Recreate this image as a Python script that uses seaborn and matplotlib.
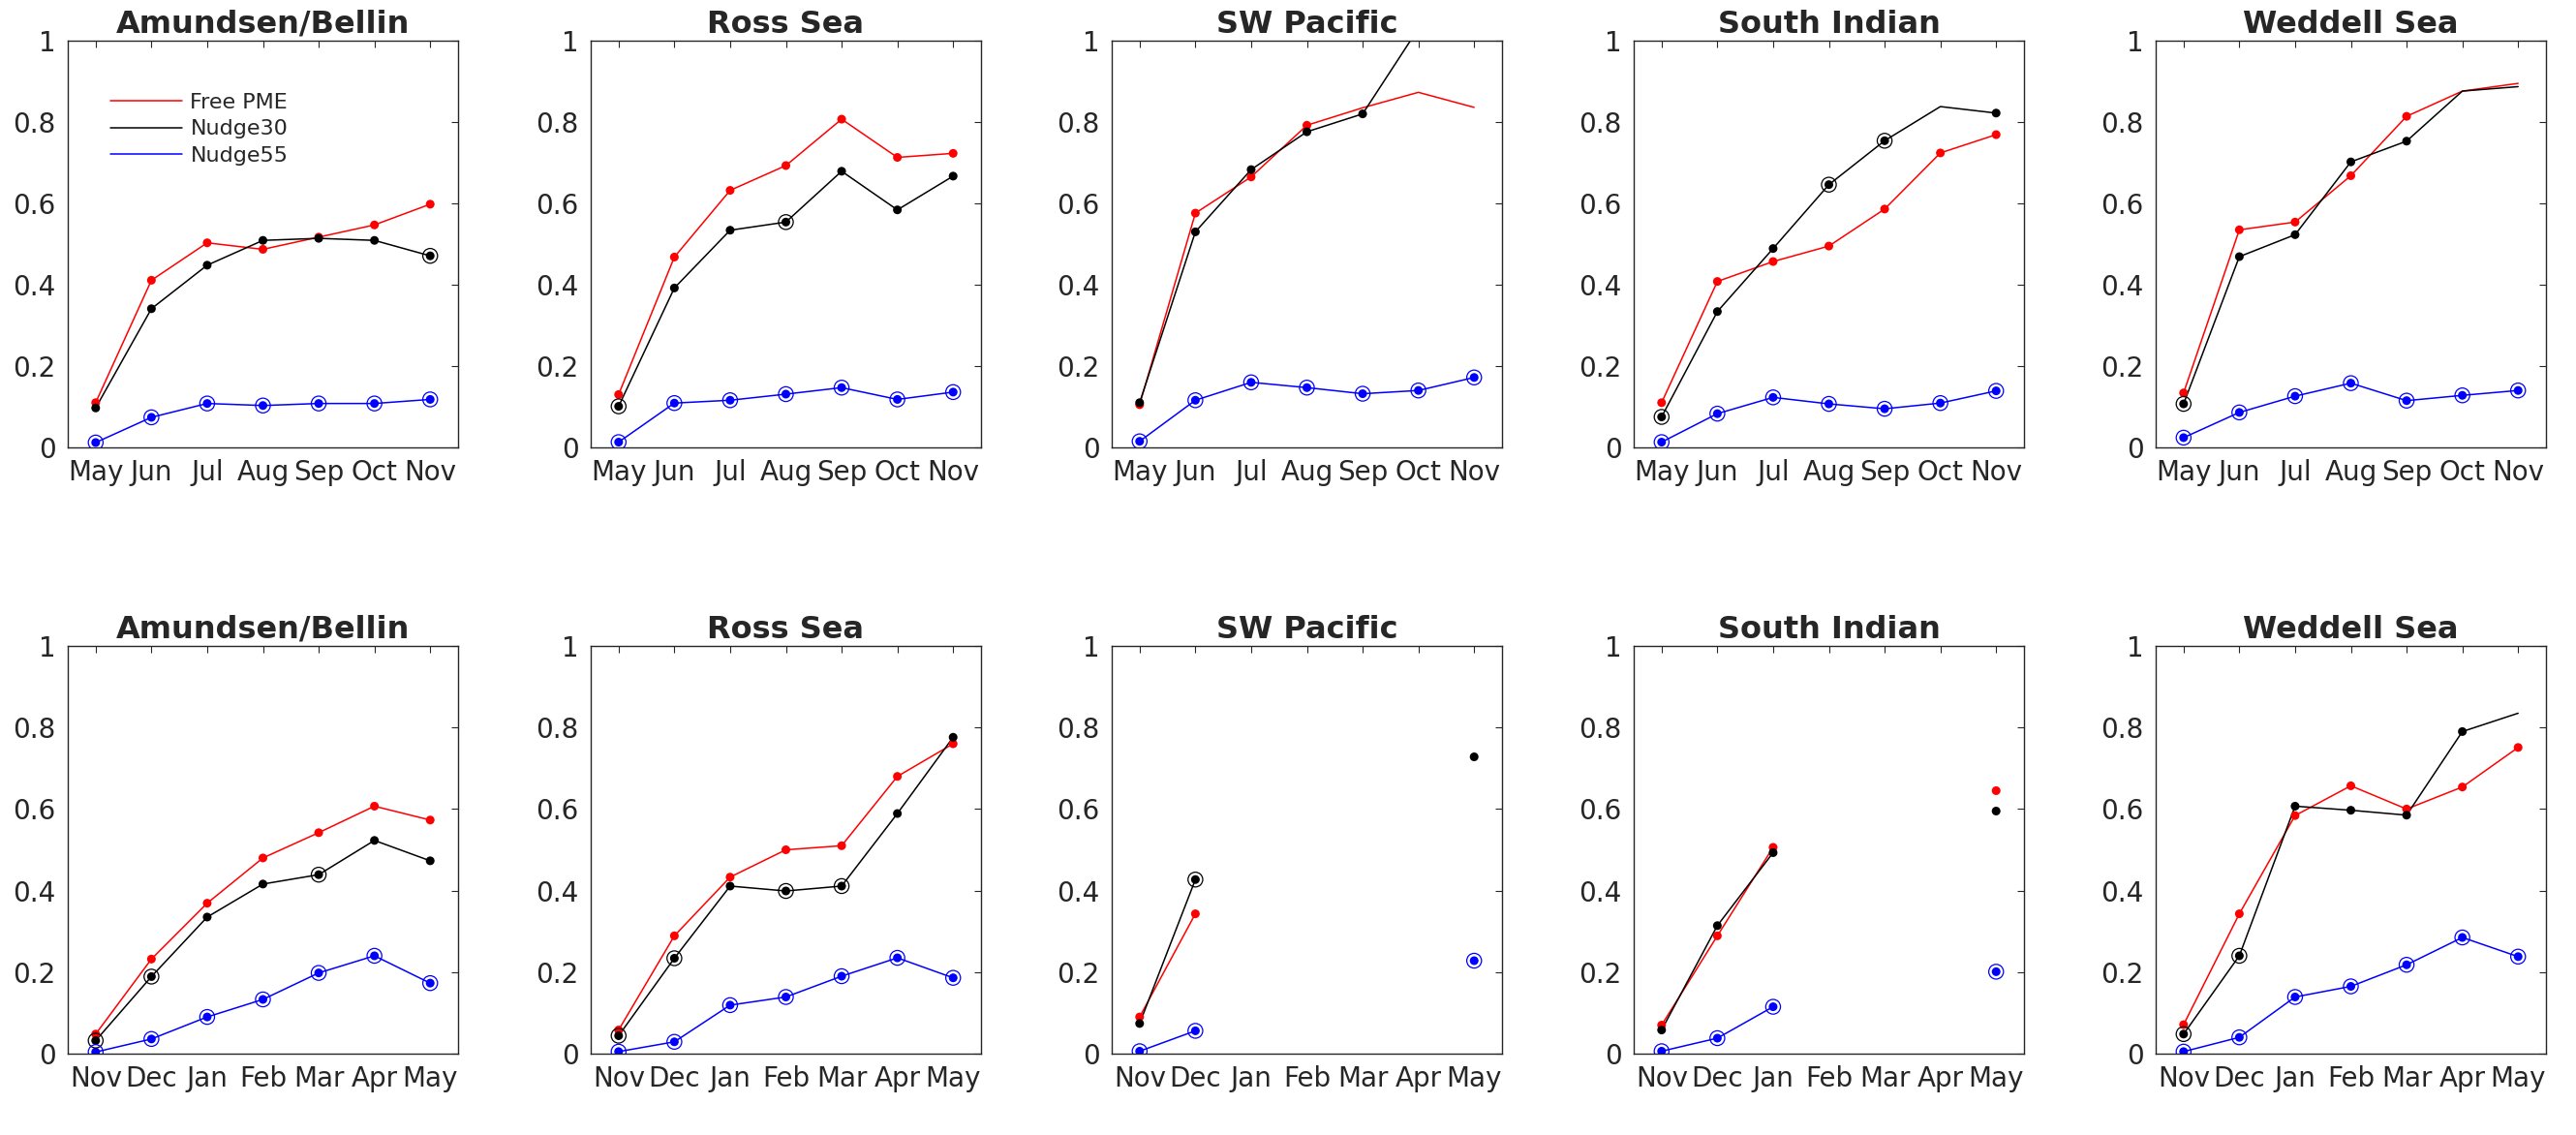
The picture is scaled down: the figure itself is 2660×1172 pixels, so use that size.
import numpy as np
import pandas as pd
import seaborn as sns
import matplotlib.pyplot as plt
from matplotlib.lines import Line2D

regions = ['Amundsen/Bellin', 'Ross Sea', 'SW Pacific', 'South Indian', 'Weddell Sea']
months_top = ['May', 'Jun', 'Jul', 'Aug', 'Sep', 'Oct', 'Nov']
months_bot = ['Nov', 'Dec', 'Jan', 'Feb', 'Mar', 'Apr', 'May']
series = ['Free PME', 'Nudge30', 'Nudge55']
colors = {'Free PME': '#ff0000', 'Nudge30': '#000000', 'Nudge55': '#0000ff'}
nan = np.nan

# top row (start May)
free_top = [
    [0.110, 0.411, 0.503, 0.487, 0.517, 0.547, 0.598],
    [0.130, 0.468, 0.632, 0.693, 0.807, 0.713, 0.723],
    [0.105, 0.576, 0.665, 0.792, 0.835, 0.873, 0.836],
    [0.110, 0.408, 0.457, 0.495, 0.586, 0.724, 0.769],
    [0.134, 0.535, 0.554, 0.668, 0.814, 0.876, 0.895],
]
nudge30_top = [
    [0.097, 0.341, 0.448, 0.509, 0.514, 0.509, 0.471],
    [0.101, 0.392, 0.534, 0.554, 0.679, 0.584, 0.667],
    [0.110, 0.530, 0.683, 0.776, 0.820, 1.030, 1.080],
    [0.075, 0.334, 0.489, 0.646, 0.754, 0.838, 0.822],
    [0.107, 0.469, 0.523, 0.702, 0.753, 0.876, 0.887],
]
nudge55_top = [
    [0.012, 0.074, 0.108, 0.103, 0.108, 0.108, 0.118],
    [0.013, 0.109, 0.116, 0.131, 0.147, 0.118, 0.136],
    [0.015, 0.116, 0.160, 0.147, 0.132, 0.140, 0.172],
    [0.013, 0.083, 0.123, 0.107, 0.095, 0.109, 0.139],
    [0.024, 0.086, 0.126, 0.158, 0.115, 0.128, 0.140],
]
# bottom row (start Nov)
free_bot = [
    [0.048, 0.232, 0.369, 0.480, 0.542, 0.607, 0.573],
    [0.058, 0.289, 0.433, 0.500, 0.510, 0.680, 0.760],
    [0.090, 0.343, nan, nan, nan, nan, nan],
    [0.070, 0.289, 0.506, nan, nan, nan, 0.645],
    [0.071, 0.343, 0.584, 0.657, 0.600, 0.654, 0.751],
]
nudge30_bot = [
    [0.032, 0.189, 0.335, 0.416, 0.439, 0.523, 0.473],
    [0.044, 0.234, 0.411, 0.399, 0.411, 0.589, 0.776],
    [0.074, 0.427, nan, nan, nan, nan, 0.728],
    [0.058, 0.314, 0.493, nan, nan, nan, 0.595],
    [0.048, 0.240, 0.607, 0.597, 0.585, 0.790, 0.835],
]
nudge55_bot = [
    [0.004, 0.036, 0.090, 0.133, 0.198, 0.240, 0.173],
    [0.005, 0.029, 0.119, 0.139, 0.190, 0.235, 0.186],
    [0.006, 0.056, nan, nan, nan, nan, 0.228],
    [0.006, 0.038, 0.115, nan, nan, nan, 0.201],
    [0.005, 0.040, 0.139, 0.165, 0.218, 0.285, 0.238],
]

# marker flags: o = dot, c = dot + ring, . = no marker
free_top_mk = ['ooooooo', 'ooooooo', 'oooo...', 'ooooooo', 'ooooo..']
nudge30_top_mk = ['ooooooc', 'coocooo', 'ooooo..', 'coocc.o', 'coooo..']
nudge55_top_mk = ['ccccccc'] * 5
free_bot_mk = ['ooooooo', 'ooooooo', 'oo.....', 'ooo...o', 'ooooooo']
nudge30_bot_mk = ['ccoocoo', 'ccoccoo', 'oc....o', 'ooo...o', 'ccoooo.']
nudge55_bot_mk = ['ccccccc', 'ccccccc', 'cc....c', 'ccc...c', 'ccccccc']


def make_frame(vals, marks):
    rows = []
    for name, v, m in zip(series, vals, marks):
        seg = 0
        for i, (y, f) in enumerate(zip(v, m)):
            if np.isnan(y):
                seg += 1
                continue
            rows.append(dict(series=name, x=i, y=y, mk=f, unit=f'{name}{seg}'))
    return pd.DataFrame(rows)


sns.set_style('white')
plt.rcParams['font.family'] = ['DejaVu Sans']

fig = plt.figure(figsize=(26.6, 11.72), dpi=100)
lefts = [70, 610, 1148, 1687, 2226]
rows_cfg = [
    (42, 462, months_top, free_top, nudge30_top, nudge55_top,
     free_top_mk, nudge30_top_mk, nudge55_top_mk),
    (667, 1088, months_bot, free_bot, nudge30_bot, nudge55_bot,
     free_bot_mk, nudge30_bot_mk, nudge55_bot_mk),
]

for r, (top, bot, months, fr, n30, n55, frm, n30m, n55m) in enumerate(rows_cfg):
    for c in range(5):
        ax = fig.add_axes([lefts[c] / 2660, 1 - bot / 1172, 403 / 2660, (bot - top) / 1172])
        df = make_frame([fr[c], n30[c], n55[c]], [frm[c], n30m[c], n55m[c]])
        # lines, broken where data is missing
        sns.lineplot(data=df, x='x', y='y', hue='series', units='unit', estimator=None,
                     palette=colors, hue_order=series, lw=1.1, legend=False, ax=ax)
        dots = df[df.mk != '.']
        sns.scatterplot(data=dots, x='x', y='y', hue='series', palette=colors,
                        hue_order=series, s=42, linewidth=0, legend=False, ax=ax, zorder=3)
        rings = df[df.mk == 'c']
        for name in series:
            sub = rings[rings.series == name]
            if len(sub):
                ax.scatter(sub.x, sub.y, s=120, facecolors='none',
                           edgecolors=colors[name], linewidths=0.9, zorder=3)
        ax.set_xlim(-0.5, 6.5)
        ax.set_ylim(0, 1)
        ax.set_xticks(range(7))
        ax.set_xticklabels(months)
        ax.set_yticks([0, 0.2, 0.4, 0.6, 0.8, 1])
        ax.set_yticklabels(['0', '0.2', '0.4', '0.6', '0.8', '1'])
        ax.set_xlabel('')
        ax.set_ylabel('')
        ax.tick_params(direction='in', length=5, width=0.8, top=True, right=True,
                       labelsize=20, colors='#262626', pad=9)
        for s in ax.spines.values():
            s.set_color('#262626')
            s.set_linewidth(1.0)
        ax.set_title(regions[c], fontsize=23, fontweight='bold', pad=6)
        if r == 0 and c == 0:
            handles = [Line2D([], [], color=colors[n], lw=1.1) for n in series]
            ax.legend(handles, series, loc='upper left', frameon=False, fontsize=16,
                      bbox_to_anchor=(0.06, 0.92), handlelength=3.3, handletextpad=0.4,
                      labelspacing=0.35)

fig.savefig('out.png', dpi=100)
